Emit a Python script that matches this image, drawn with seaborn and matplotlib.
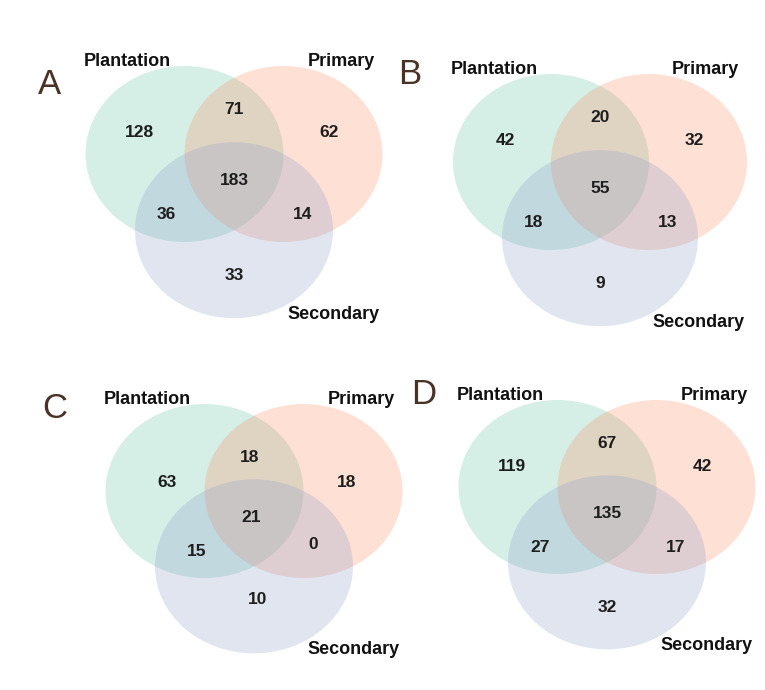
import matplotlib
matplotlib.use("Agg")
import matplotlib.pyplot as plt
from matplotlib.patches import Ellipse
import seaborn as sns

# ---- data -------------------------------------------------------------
set_names = ["Plantation", "Primary", "Secondary"]
panel_letters = ["A", "B", "C", "D"]
# region order: Plantation only, Plantation&Primary, Primary only, all three,
#               Plantation&Secondary, Primary&Secondary, Secondary only
region_keys = ["100", "110", "010", "111", "101", "011", "001"]
counts_A = [128, 71, 62, 183, 36, 14, 33]
counts_B = [42, 20, 32, 55, 18, 13, 9]
counts_C = [63, 18, 18, 21, 15, 0, 10]
counts_D = [119, 67, 42, 135, 27, 17, 32]
panel_counts = [counts_A, counts_B, counts_C, counts_D]

# ---- style ------------------------------------------------------------
sns.set_theme(style="white")
plt.rcParams["font.family"] = ["Liberation Sans", "DejaVu Sans"]
set_colors = sns.color_palette("Set2", 3)
fill_alpha = 0.27
letter_color = "#4a3226"

W, H = 765, 690
fig = plt.figure(figsize=(W / 100, H / 100), dpi=100)
fig.patch.set_facecolor("white")

# Venn geometry in unit-circle coordinates
circle_centers = [(-0.5, 0.0), (0.5, 0.0), (0.0, -0.866)]
label_pos = [(-1.08, 1.05), (1.08, 1.05), (1.01, -1.82)]
default_region_pos = {
    "100": (-0.96, 0.24), "110": (0.0, 0.50), "010": (0.96, 0.24),
    "111": (0.0, -0.30), "101": (-0.68, -0.69), "011": (0.69, -0.69),
    "001": (0.0, -1.38),
}
panel_c_region_pos = {
    "100": (-0.88, 0.10), "110": (-0.04, 0.39), "010": (0.93, 0.10),
    "111": (-0.03, -0.30), "101": (-0.58, -0.69), "011": (0.60, -0.61),
    "001": (0.04, -1.25),
}

# per-panel placement: origin pixel, pixels per unit (x, y), letter pixel
panel_layout = [
    dict(origin=(234, 154), scale=(99, 88), letter=(50, 85), regions=default_region_pos),
    dict(origin=(600, 162), scale=(98, 88), letter=(410, 75), regions=default_region_pos),
    dict(origin=(254, 491), scale=(99, 87), letter=(55, 408), regions=panel_c_region_pos),
    dict(origin=(607, 487), scale=(99, 87), letter=(424, 395), regions=default_region_pos),
]

xlim = (-1.75, 1.75)
ylim = (-2.0, 1.45)

for letter, counts, lay in zip(panel_letters, panel_counts, panel_layout):
    ox, oy = lay["origin"]
    sx, sy = lay["scale"]
    left_px = ox + xlim[0] * sx
    top_px = oy - ylim[1] * sy
    w_px = (xlim[1] - xlim[0]) * sx
    h_px = (ylim[1] - ylim[0]) * sy
    ax = fig.add_axes([left_px / W, 1 - (top_px + h_px) / H, w_px / W, h_px / H])
    ax.set_xlim(*xlim)
    ax.set_ylim(*ylim)
    ax.set_aspect("auto")
    ax.axis("off")
    ax.patch.set_alpha(0)

    for (cx, cy), col in zip(circle_centers, set_colors):
        ax.add_patch(Ellipse((cx, cy), 2.0, 2.0, facecolor=col,
                             alpha=fill_alpha, edgecolor="none"))

    for key, val in zip(region_keys, counts):
        x, y = lay["regions"][key]
        ax.text(x, y, str(val), ha="center", va="center", fontsize=12.5,
                fontweight="bold", color="#1e1e1e")

    for name, (x, y) in zip(set_names, label_pos):
        ax.text(x, y, name, ha="center", va="center", fontsize=13,
                fontweight="bold", color="#111111")

    lx, ly = lay["letter"]
    fig.text(lx / W, 1 - ly / H, letter, ha="center", va="center",
             fontsize=25, color=letter_color, fontweight="normal",
             family=["Liberation Sans", "DejaVu Sans"])

fig.savefig("out.png", dpi=100, facecolor="white")
